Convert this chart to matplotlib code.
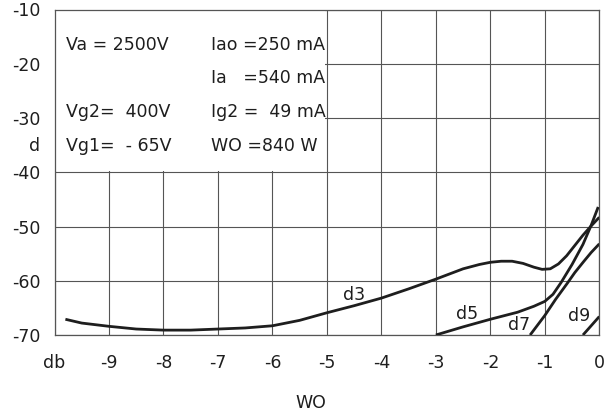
import matplotlib
matplotlib.use("Agg")
import matplotlib.pyplot as plt
from matplotlib.patches import Rectangle
from matplotlib.transforms import blended_transform_factory

# ---- data ----
d3_x = [-9.8, -9.5, -9.0, -8.5, -8.0, -7.5, -7.0, -6.5, -6.0, -5.5, -5.0, -4.5, -4.0,
        -3.5, -3.0, -2.5, -2.2, -2.0, -1.8, -1.6, -1.4, -1.2, -1.05, -0.9, -0.75,
        -0.6, -0.45, -0.3, -0.15, 0.0]
d3_y = [-67.1, -67.8, -68.4, -68.9, -69.1, -69.1, -68.9, -68.7, -68.3, -67.3, -65.9, -64.6, -63.2,
        -61.5, -59.7, -57.8, -57.0, -56.6, -56.4, -56.4, -56.8, -57.5, -57.9, -57.8, -56.9,
        -55.4, -53.5, -51.6, -49.9, -48.3]

d5_x = [-3.0, -2.5, -2.0, -1.5, -1.2, -1.0, -0.85, -0.7, -0.5, -0.3, -0.15, -0.02]
d5_y = [-70.0, -68.5, -67.1, -65.8, -64.7, -63.8, -62.5, -60.3, -57.0, -53.3, -49.8, -46.4]

d7_x = [-1.27, -1.0, -0.8, -0.59, -0.45, -0.29, -0.15, 0.0]
d7_y = [-70.0, -66.4, -63.4, -60.5, -58.5, -56.5, -54.8, -53.2]

d9_x = [-0.30, 0.0]
d9_y = [-70.0, -66.6]

x_ticks = [-10, -9, -8, -7, -6, -5, -4, -3, -2, -1, 0]
x_tick_labels = ["db", "-9", "-8", "-7", "-6", "-5", "-4", "-3", "-2", "-1", "0"]
y_ticks = [-70, -60, -50, -40, -30, -20, -10]
y_tick_labels = ["-70", "-60", "-50", "-40", "-30", "-20", "-10"]

curve_labels = ["d3", "d5", "d7", "d9"]
curve_label_x = [-4.5, -2.42, -1.47, -0.37]
curve_label_y = [-62.6, -66.1, -68.1, -66.5]

info_text = ["Va = 2500V", "Iao =250 mA", "Ia   =540 mA", "Vg2=  400V",
             "Ig2 =  49 mA", "Vg1=  - 65V", "WO =840 W"]
info_x = [-9.78, -7.12, -7.12, -9.78, -7.12, -9.78, -7.12]
info_y = [-16.5, -16.5, -22.6, -28.9, -28.9, -35.2, -35.2]

# ---- drawing ----
INK = "#1e1e1e"
GRID = "#555555"
FS = 12.5

fig = plt.figure(figsize=(6.09, 4.16), dpi=100)
ax = fig.add_axes([54.5 / 609, 81 / 416, 544.8 / 609, 325.5 / 416])
ax.set_xlim(-10, 0)
ax.set_ylim(-70, -10)

ax.set_xticks(x_ticks)
ax.set_xticklabels(x_tick_labels)
ax.set_yticks(y_ticks)
ax.set_yticklabels(y_tick_labels)
ax.tick_params(length=0, labelsize=FS, colors=INK)
ax.tick_params(axis="x", pad=14)
ax.tick_params(axis="y", pad=10)

ax.set_axisbelow(True)
ax.grid(True, color=GRID, linewidth=0.8)
for s in ax.spines.values():
    s.set_color(GRID)
    s.set_linewidth(0.9)

# white box hiding the grid behind the parameter text
ax.add_patch(Rectangle((-10, -39.8), 4.97, 29.8, facecolor="white",
                       edgecolor="none", zorder=1))

for xs, ys in [(d3_x, d3_y), (d5_x, d5_y), (d7_x, d7_y), (d9_x, d9_y)]:
    ax.plot(xs, ys, color=INK, linewidth=2.0, zorder=3,
            solid_capstyle="butt", solid_joinstyle="round")

for t, x, y in zip(curve_labels, curve_label_x, curve_label_y):
    ax.text(x, y, t, fontsize=FS, color=INK, ha="center", va="center", zorder=4)

for t, x, y in zip(info_text, info_x, info_y):
    ax.text(x, y, t, fontsize=FS, color=INK, ha="left", va="center", zorder=4)

trans = blended_transform_factory(ax.transAxes, ax.transData)
ax.text(-0.0257, -35.2, "d", transform=trans, fontsize=FS, color=INK,
        ha="right", va="center")

fig.text(311 / 609, 1 - 402.7 / 416, "WO", fontsize=FS, color=INK,
         ha="center", va="center")

fig.savefig("out.png", dpi=100)
